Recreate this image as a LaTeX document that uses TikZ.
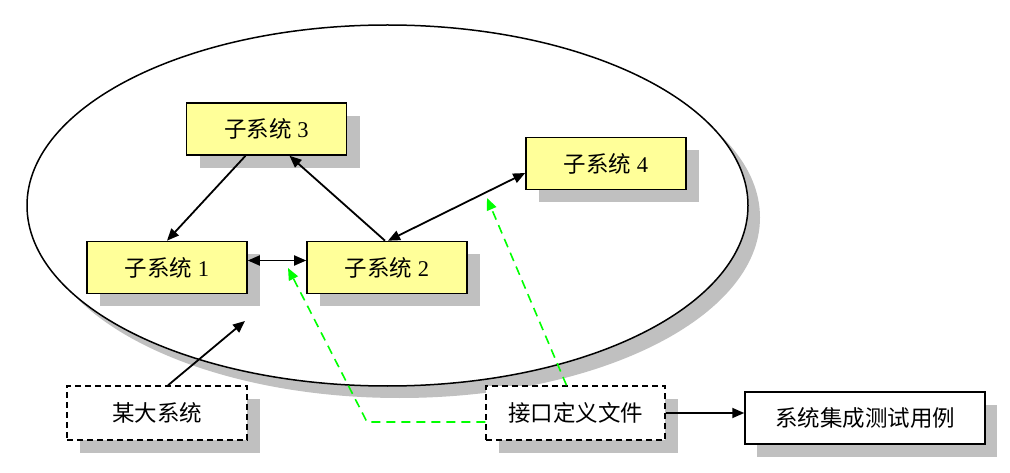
\documentclass[tikz,border=0pt]{standalone}
\usepackage{fontspec}
\setmainfont{Liberation Serif}
\newfontfamily\cjk{Noto Sans CJK SC}
\usetikzlibrary{arrows.meta,shadows,calc}
\definecolor{shadowgray}{RGB}{192,192,192}
\definecolor{boxyellow}{RGB}{255,255,153}
\definecolor{dgreen}{RGB}{0,255,0}
\tikzset{
  sub/.style={draw=black, line width=1.6pt, fill=boxyellow, inner sep=0pt,
    minimum width=160pt, minimum height=52pt, font=\fontsize{22.5}{26}\selectfont,
    drop shadow={shadow xshift=13pt, shadow yshift=-13pt, fill=shadowgray, opacity=1}},
  dbox/.style={draw=black, line width=1.4pt, dash pattern=on 6pt off 4pt, fill=white, inner sep=0pt,
    minimum height=54pt, font=\fontsize{22.5}{26}\selectfont,
    drop shadow={shadow xshift=13pt, shadow yshift=-13pt, fill=shadowgray, opacity=1}},
  sbox/.style={draw=black, line width=1.5pt, fill=white, inner sep=0pt,
    minimum height=52pt, font=\fontsize{22.5}{26}\selectfont,
    drop shadow={shadow xshift=12pt, shadow yshift=-13pt, fill=shadowgray, opacity=1}},
  conn/.style={line width=1.8pt, -{Triangle[length=12pt,width=10pt]}},
  dconn/.style={line width=1.8pt, {Triangle[length=12pt,width=10pt]}-{Triangle[length=12pt,width=10pt]}},
  gconn/.style={line width=1.6pt, dgreen, dash pattern=on 9pt off 6pt, -{Triangle[length=12pt,width=10pt]}},
}
\begin{document}
\begin{tikzpicture}[x=1pt,y=-1pt]
\useasboundingbox (0,0) rectangle (1010,473);
\fill[white] (0,0) rectangle (1010,473);
% ellipse with shadow
\fill[shadowgray] (399.5,217.5) ellipse [x radius=360.5, y radius=180.5];
\draw[line width=1.5pt, fill=white] (387.5,205.5) ellipse [x radius=360.5, y radius=180.5];

\node[sub] (s3) at (266.5,129) {{\cjk 子系统} 3};
\node[sub] (s1) at (167,267.5) {{\cjk 子系统} 1};
\node[sub] (s2) at (387,267.5) {{\cjk 子系统} 2};
\node[sub] (s4) at (606,163.5) {{\cjk 子系统} 4};
\node[dbox, minimum width=180pt] (big) at (157,413) {\cjk 某大系统};
\node[dbox, minimum width=179pt] (iface) at (575.5,413) {\cjk 接口定义文件};
\node[sbox, minimum width=240pt] (test) at (865,418) {\cjk 系统集成测试用例};

\coordinate (bigt) at (245,321);
\coordinate (gc) at (367,422);
\coordinate (g1t) at (288,268);
\coordinate (g2t) at (487,198);

\draw[conn] ([xshift=-21pt]s3.south) -- (s1.north);
\draw[conn] ([xshift=-2pt]s2.north) -- ([xshift=23pt]s3.south);
\draw[dconn] ([xshift=1pt]s2.north) -- ([yshift=-9.5pt]s4.west);
\draw[dconn] ([yshift=7pt]s1.east) -- ([yshift=7pt]s2.west);
\draw[conn] ([xshift=11pt]big.north) -- (bigt);
\draw[gconn] ([yshift=-9pt]iface.west) -- (gc) -- (g1t);
\draw[gconn] ([xshift=-9pt]iface.north) -- (g2t);
\draw[conn] (iface.east) -- (iface.east -| test.west);
\end{tikzpicture}
\end{document}
